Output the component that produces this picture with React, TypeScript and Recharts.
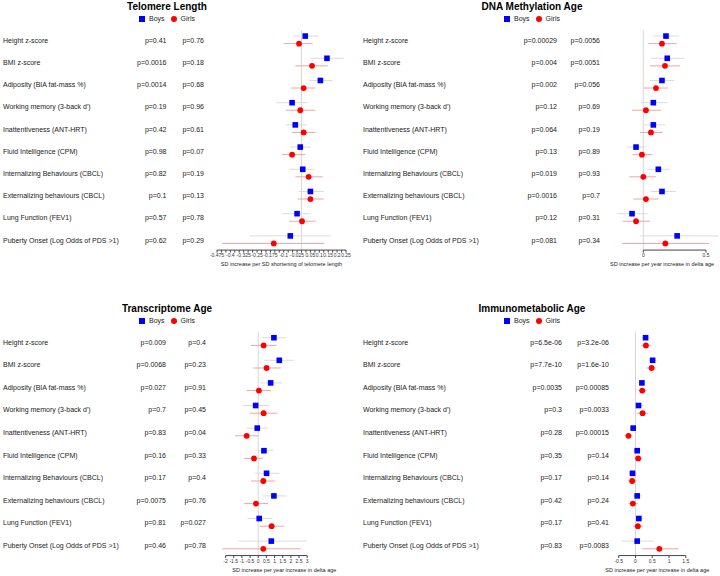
import { ScatterChart, Scatter, XAxis, YAxis, ErrorBar, ReferenceLine, Label } from "recharts";

const FONT = "'Liberation Sans', Arial, Helvetica, sans-serif";

const outcomes = [
  "Height z-score",
  "BMI z-score",
  "Adiposity (BIA fat-mass %)",
  "Working memory (3-back d')",
  "Inattentiveness (ANT-HRT)",
  "Fluid Intelligence (CPM)",
  "Internalizing Behaviours (CBCL)",
  "Externalizing behaviours (CBCL)",
  "Lung Function (FEV1)",
  "Puberty Onset (Log Odds of PDS >1)",
];

// Telomere length
const tlBoysEst = [0.021, 0.143, 0.106, -0.053, -0.035, -0.007, 0.007, 0.05, -0.025, -0.063];
const tlBoysLo = [-0.044, 0.05, 0.044, -0.143, -0.087, -0.063, -0.069, -0.016, -0.106, -0.293];
const tlBoysHi = [0.097, 0.237, 0.175, 0.035, 0.031, 0.053, 0.072, 0.125, 0.053, 0.162];
const tlGirlsEst = [-0.014, 0.059, 0.012, -0.007, 0.012, -0.053, 0.04, 0.05, 0.003, -0.156];
const tlGirlsLo = [-0.1, -0.035, -0.059, -0.087, -0.053, -0.11, -0.035, -0.021, -0.069, -0.447];
const tlGirlsHi = [0.063, 0.147, 0.078, 0.078, 0.078, 0.021, 0.119, 0.125, 0.078, 0.128];
const tlBoysP = ["p=0.41", "p=0.0016", "p=0.0014", "p=0.19", "p=0.42", "p=0.98", "p=0.82", "p=0.1", "p=0.57", "p=0.62"];
const tlGirlsP = ["p=0.76", "p=0.18", "p=0.68", "p=0.96", "p=0.61", "p=0.07", "p=0.19", "p=0.13", "p=0.78", "p=0.29"];
const tlTicks = [
  -0.475, -0.45, -0.425, -0.4, -0.375, -0.35, -0.325, -0.3, -0.275, -0.25, -0.225, -0.2, -0.175, -0.15, -0.125,
  -0.1, -0.075, -0.05, -0.025, 0, 0.025, 0.05, 0.075, 0.1, 0.125, 0.15, 0.175, 0.2, 0.225, 0.25,
];
const tlTickLabels = [-0.475, -0.4, -0.325, -0.25, -0.175, -0.1, -0.025, 0.05, 0.1, 0.15, 0.2, 0.25];

// DNA methylation age
const dnaBoysEst = [0.181, 0.191, 0.149, 0.08, 0.08, -0.058, 0.12, 0.149, -0.09, 0.27];
const dnaBoysLo = [0.08, 0.061, 0.053, -0.019, 0, -0.133, 0.027, 0.059, -0.213, -0.027];
const dnaBoysHi = [0.287, 0.327, 0.245, 0.191, 0.176, 0.021, 0.213, 0.261, 0.032, 0.6];
const dnaGirlsEst = [0.149, 0.173, 0.101, 0.021, 0.061, -0.011, 0.0, 0.021, -0.058, 0.176];
const dnaGirlsLo = [0.04, 0.053, 0.0, -0.09, -0.027, -0.085, -0.112, -0.08, -0.165, -0.17];
const dnaGirlsHi = [0.266, 0.292, 0.195, 0.141, 0.155, 0.075, 0.101, 0.123, 0.053, 0.527];
const dnaBoysP = ["p=0.00029", "p=0.004", "p=0.002", "p=0.12", "p=0.064", "p=0.13", "p=0.019", "p=0.0016", "p=0.12", "p=0.081"];
const dnaGirlsP = ["p=0.0056", "p=0.0051", "p=0.056", "p=0.69", "p=0.19", "p=0.89", "p=0.93", "p=0.7", "p=0.31", "p=0.34"];
const dnaTicks = [0, 0.5];

// Transcriptome age
const trBoysEst = [0.96, 1.29, 0.76, -0.16, -0.06, 0.35, 0.51, 0.96, 0.06, 0.8];
const trBoysLo = [0.25, 0.37, 0.1, -0.96, -0.71, -0.1, -0.24, 0.25, -0.67, -1.22];
const trBoysHi = [1.7, 2.19, 1.45, 0.66, 0.58, 0.92, 1.29, 1.74, 0.88, 2.96];
const trGirlsEst = [0.33, 0.51, 0.04, 0.33, -0.71, -0.26, 0.31, -0.14, 0.82, 0.31];
const trGirlsLo = [-0.45, -0.31, -0.71, -0.51, -1.43, -0.86, -0.45, -0.86, 0.1, -2.2];
const trGirlsHi = [1.13, 1.39, 0.78, 1.19, 0, 0.27, 1.04, 0.61, 1.57, 2.61];
const trBoysP = ["p=0.009", "p=0.0068", "p=0.027", "p=0.7", "p=0.83", "p=0.16", "p=0.17", "p=0.0075", "p=0.81", "p=0.46"];
const trGirlsP = ["p=0.4", "p=0.23", "p=0.91", "p=0.45", "p=0.04", "p=0.33", "p=0.4", "p=0.76", "p=0.027", "p=0.78"];
const trTicks = [-2, -1.5, -1, -0.5, 0, 0.5, 1, 1.5, 2, 2.5, 3];

// Immunometabolic age
const imBoysEst = [0.3, 0.51, 0.19, 0.09, -0.07, 0.05, -0.09, 0.05, 0.1, 0.05];
const imBoysLo = [0.19, 0.39, 0.09, -0.03, -0.16, -0.06, -0.21, -0.08, -0.01, -0.41];
const imBoysHi = [0.43, 0.63, 0.28, 0.24, 0.04, 0.16, 0.04, 0.19, 0.24, 0.54];
const imGirlsEst = [0.31, 0.48, 0.2, 0.21, -0.21, 0.08, -0.1, -0.08, 0.07, 0.71];
const imGirlsLo = [0.16, 0.33, 0.09, 0.04, -0.33, -0.03, -0.23, -0.21, -0.08, 0.2];
const imGirlsHi = [0.46, 0.61, 0.33, 0.39, -0.08, 0.19, 0.04, 0.06, 0.22, 1.28];
const imBoysP = ["p=6.5e-06", "p=7.7e-10", "p=0.0035", "p=0.3", "p=0.28", "p=0.35", "p=0.17", "p=0.42", "p=0.17", "p=0.83"];
const imGirlsP = ["p=3.2e-06", "p=1.6e-10", "p=0.00085", "p=0.0033", "p=0.00015", "p=0.14", "p=0.14", "p=0.24", "p=0.41", "p=0.0083"];
const imTicks = [-0.5, 0, 0.5, 1, 1.5];

const W = 360;
const H = 288;
const rowTicks = outcomes.map((_, i) => i);

const buildRows = (est: number[], lo: number[], hi: number[], shift: number) =>
  est.map((v, i) => ({ x: v, y: i + shift, err: [v - lo[i], hi[i] - v] }));

const Square = (props: any) => (
  <rect x={props.cx - 2.8} y={props.cy - 2.8} width={5.6} height={5.6} fill="#0000ff" />
);
const Dot = (props: any) => <circle cx={props.cx} cy={props.cy} r={2.9} fill="#ff0000" />;

type PanelProps = {
  left: number;
  top: number;
  title: string;
  titleX: number;
  titleY: number;
  boys: { x: number; y: number; err: number[] }[];
  girls: { x: number; y: number; err: number[] }[];
  boysP: string[];
  girlsP: string[];
  labelX: number;
  boysPX: number;
  girlsPX: number;
  domain: [number, number];
  ticks: number[];
  tickLabels?: number[];
  plotLeft: number;
  plotRight: number;
  row0: number;
  rowGap: number;
  axisTitle: string;
};

const ForestPanel = (p: PanelProps) => {
  const plotTop = p.row0 - 0.45 * p.rowGap;
  const plotBottom = p.row0 + 9.45 * p.rowGap;
  const xh = 16;
  const fmt = (v: number) => {
    const r = +v.toFixed(3);
    if (p.tickLabels && !p.tickLabels.includes(r)) return "";
    return String(r);
  };
  const rowTick = (t: any) => {
    const i = t.payload.value;
    const st = { fontSize: 7, fill: "#222", fontFamily: FONT };
    return (
      <g>
        <text x={p.labelX} y={t.y} dominantBaseline="central" style={st}>{outcomes[i]}</text>
        <text x={p.boysPX} y={t.y} dominantBaseline="central" textAnchor="end" style={st}>{p.boysP[i]}</text>
        <text x={p.girlsPX} y={t.y} dominantBaseline="central" textAnchor="end" style={st}>{p.girlsP[i]}</text>
      </g>
    );
  };
  return (
    <div style={{ position: "absolute", left: p.left, top: p.top, width: W, height: H }}>
      <div
        style={{
          position: "absolute",
          left: p.titleX - 100,
          width: 200,
          top: p.titleY,
          textAlign: "center",
          fontFamily: FONT,
          fontWeight: "bold",
          fontSize: 10,
          lineHeight: "12px",
          color: "#000",
        }}
      >
        {p.title}
      </div>
      <div
        style={{
          position: "absolute",
          left: p.titleX - 100,
          width: 200,
          top: p.titleY + 13,
          display: "flex",
          justifyContent: "center",
          alignItems: "center",
          fontFamily: FONT,
          fontSize: 7,
          lineHeight: "9px",
          color: "#222",
        }}
      >
        <span style={{ width: 6, height: 6, background: "#0000ff", display: "inline-block", marginRight: 4 }} />
        <span style={{ marginRight: 6 }}>Boys</span>
        <span style={{ width: 6, height: 6, borderRadius: 3, background: "#ff0000", display: "inline-block", marginRight: 4 }} />
        <span>Girls</span>
      </div>
      <ScatterChart
        width={W}
        height={H}
        margin={{ top: plotTop, right: p.plotRight, bottom: H - plotBottom - xh, left: 0 }}
        style={{ position: "absolute", left: 0, top: 0 }}
      >
        <XAxis
          type="number"
          dataKey="x"
          domain={p.domain}
          ticks={p.ticks}
          interval={0}
          allowDataOverflow
          axisLine={false}
          tickLine={{ stroke: "#444" }}
          tickSize={2.5}
          tickMargin={1}
          tickFormatter={fmt}
          tick={{ fontSize: 5, fill: "#333", fontFamily: FONT }}
          height={xh}
        >
          <Label value={p.axisTitle} position="insideBottom" offset={0} style={{ fontSize: 5.5, fill: "#222", fontFamily: FONT }} />
        </XAxis>
        <YAxis
          type="number"
          dataKey="y"
          domain={[-0.45, 9.45]}
          reversed
          ticks={rowTicks}
          interval={0}
          width={p.plotLeft}
          axisLine={false}
          tickLine={false}
          tick={rowTick}
        />
        <ReferenceLine x={0} stroke="#d8d8d8" strokeWidth={1} />
        <ReferenceLine
          segment={[
            { x: p.ticks[0], y: 9.45 },
            { x: p.ticks[p.ticks.length - 1], y: 9.45 },
          ]}
          stroke="#444"
          ifOverflow="visible"
        />
        <Scatter data={p.girls} shape={Dot} isAnimationActive={false}>
          <ErrorBar dataKey="err" direction="x" width={0} stroke="#f4a3a3" strokeWidth={1} />
        </Scatter>
        <Scatter data={p.boys} shape={Square} isAnimationActive={false}>
          <ErrorBar dataKey="err" direction="x" width={0} stroke="#dcdcdc" strokeWidth={1} />
        </Scatter>
      </ScatterChart>
    </div>
  );
};

const BOY_SHIFT = -0.19;
const GIRL_SHIFT = 0.15;

const App = () => {
  return (
    <div style={{ position: "absolute", left: 0, top: 0, width: 720, height: 576, background: "#fff", overflow: "hidden" }}>
      <ForestPanel
        left={0}
        top={0}
        title="Telomere Length"
        titleX={167}
        titleY={1}
        boys={buildRows(tlBoysEst, tlBoysLo, tlBoysHi, BOY_SHIFT)}
        girls={buildRows(tlGirlsEst, tlGirlsLo, tlGirlsHi, GIRL_SHIFT)}
        boysP={tlBoysP}
        girlsP={tlGirlsP}
        labelX={3}
        boysPX={166.5}
        girlsPX={204}
        domain={[-0.475, 0.25]}
        ticks={tlTicks}
        tickLabels={tlTickLabels}
        plotLeft={217}
        plotRight={14}
        row0={40.3}
        rowGap={22.2}
        axisTitle="SD increase per SD shortening of telomere length"
      />
      <ForestPanel
        left={360}
        top={0}
        title="DNA Methylation Age"
        titleX={172}
        titleY={1}
        boys={buildRows(dnaBoysEst, dnaBoysLo, dnaBoysHi, BOY_SHIFT)}
        girls={buildRows(dnaGirlsEst, dnaGirlsLo, dnaGirlsHi, GIRL_SHIFT)}
        boysP={dnaBoysP}
        girlsP={dnaGirlsP}
        labelX={3}
        boysPX={197}
        girlsPX={240}
        domain={[-0.3, 0.6]}
        ticks={dnaTicks}
        plotLeft={245.7}
        plotRight={1.5}
        row0={40.3}
        rowGap={22.2}
        axisTitle="SD increase per year increase in delta age"
      />
      <ForestPanel
        left={0}
        top={288}
        title="Transcriptome Age"
        titleX={167}
        titleY={15}
        boys={buildRows(trBoysEst, trBoysLo, trBoysHi, BOY_SHIFT)}
        girls={buildRows(trGirlsEst, trGirlsLo, trGirlsHi, GIRL_SHIFT)}
        boysP={trBoysP}
        girlsP={trGirlsP}
        labelX={3}
        boysPX={166}
        girlsPX={206}
        domain={[-2.3, 5.5]}
        ticks={trTicks}
        plotLeft={220.7}
        plotRight={12}
        row0={54}
        rowGap={22.6}
        axisTitle="SD increase per year increase in delta age"
      />
      <ForestPanel
        left={360}
        top={288}
        title="Immunometabolic Age"
        titleX={172}
        titleY={15}
        boys={buildRows(imBoysEst, imBoysLo, imBoysHi, BOY_SHIFT)}
        girls={buildRows(imGirlsEst, imGirlsLo, imGirlsHi, GIRL_SHIFT)}
        boysP={imBoysP}
        girlsP={imGirlsP}
        labelX={3}
        boysPX={202}
        girlsPX={249}
        domain={[-1, 2.3]}
        ticks={imTicks}
        plotLeft={242}
        plotRight={7.4}
        row0={54}
        rowGap={22.6}
        axisTitle="SD increase per year increase in delta age"
      />
    </div>
  );
};

export default App;
